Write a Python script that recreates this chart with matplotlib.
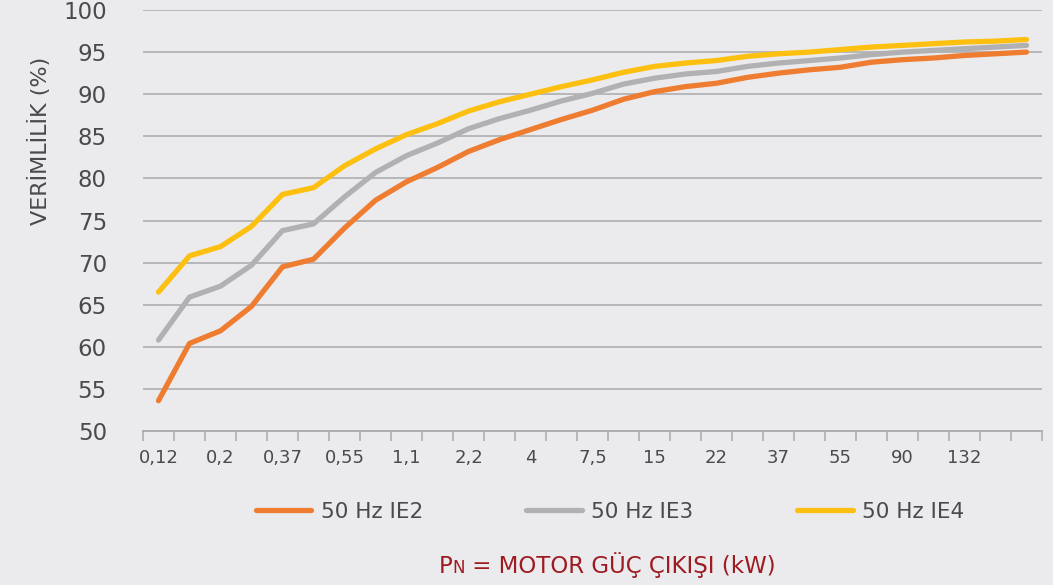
import numpy as np
import matplotlib.pyplot as plt
from matplotlib.offsetbox import TextArea, HPacker, AnchoredOffsetbox

######################################
# DATA
######################################

power_kw = ["0,12", "0,18", "0,2", "0,25", "0,37", "0,4", "0,55", "0,75", "1,1", "1,5",
            "2,2", "3", "4", "5,5", "7,5", "11", "15", "18,5", "22", "30",
            "37", "45", "55", "75", "90", "110", "132", "160", "200"]

ie2 = [53.6, 60.4, 61.9, 64.8, 69.5, 70.4, 74.1, 77.4, 79.6, 81.3,
       83.2, 84.6, 85.8, 87.0, 88.1, 89.4, 90.3, 90.9, 91.3, 92.0,
       92.5, 92.9, 93.2, 93.8, 94.1, 94.3, 94.6, 94.8, 95.0]
ie3 = [60.8, 65.9, 67.2, 69.7, 73.8, 74.6, 77.8, 80.7, 82.7, 84.2,
       85.9, 87.1, 88.1, 89.2, 90.1, 91.2, 91.9, 92.4, 92.7, 93.3,
       93.7, 94.0, 94.3, 94.7, 95.0, 95.2, 95.4, 95.6, 95.8]
ie4 = [66.5, 70.8, 71.9, 74.3, 78.1, 78.9, 81.5, 83.5, 85.2, 86.5,
       88.0, 89.1, 90.0, 90.9, 91.7, 92.6, 93.3, 93.7, 94.0, 94.5,
       94.8, 95.0, 95.3, 95.6, 95.8, 96.0, 96.2, 96.3, 96.5]

series_names = ["50 Hz IE2", "50 Hz IE3", "50 Hz IE4"]
y_ticks = [50, 55, 60, 65, 70, 75, 80, 85, 90, 95, 100]

######################################
# PLOT
######################################

plt.rcParams['font.family'] = ['DejaVu Sans']
bg = "#ebebed"
text_col = "#4a4a4c"
grid_col = "#a9a9ab"

fig = plt.figure(figsize=(10.53, 5.85), dpi=100, facecolor=bg)
ax = fig.add_axes([143/1053, 1-431/585, (1042-143)/1053, 421/585])
ax.set_facecolor(bg)

x = np.arange(len(power_kw))
colors = ["#ee7d31", "#b1b1b4", "#fdc010"]
for vals, name, c in zip([ie2, ie3, ie4], series_names, colors):
    ax.plot(x, vals, color=c, lw=3.8, solid_capstyle="round", solid_joinstyle="round",
            label=name, zorder=3)

ax.set_xlim(-0.5, len(power_kw) - 0.5)
ax.set_ylim(50, 100)
ax.set_yticks(y_ticks)
for yv in y_ticks[1:]:
    ax.axhline(yv, color=grid_col, lw=1.1, zorder=1)

# category boundaries as ticks, labels on every other category
ax.set_xticks(np.arange(-0.5, len(power_kw)), minor=False)
ax.set_xticklabels([])
ax.set_xticks(x[::2][:-1], minor=True)
ax.set_xticklabels(power_kw[::2][:-1], minor=True)
ax.tick_params(axis="x", which="major", length=7, width=1.1, color=grid_col)
ax.tick_params(axis="x", which="minor", length=0, pad=13, labelsize=13, labelcolor=text_col)
ax.tick_params(axis="y", length=0, pad=26, labelsize=16.5, labelcolor=text_col)

for s in ["top", "right", "left"]:
    ax.spines[s].set_visible(False)
ax.spines["bottom"].set_color(grid_col)
ax.spines["bottom"].set_linewidth(1.3)

ax.set_ylabel("VERİMLİLİK (%)", fontsize=16, color=text_col, labelpad=14)
ax.yaxis.set_label_coords(-92/899, 0.69)

fig.legend(loc="center", bbox_to_anchor=(0.579, 1-512/585), ncol=3, frameon=False,
           fontsize=15.5, labelcolor=text_col, handlelength=2.6, handletextpad=0.42,
           columnspacing=4.8)

# x axis title with small N
red = "#9e1b22"
parts = [TextArea("P", textprops=dict(color=red, fontsize=16.5)),
         TextArea("N", textprops=dict(color=red, fontsize=12)),
         TextArea(" = MOTOR GÜÇ ÇIKIŞI (kW)", textprops=dict(color=red, fontsize=16.5))]
box = HPacker(children=parts, align="baseline", pad=0, sep=0)
anch = AnchoredOffsetbox(loc="center", child=box, frameon=False,
                         bbox_to_anchor=(607/1053, 1-565/585),
                         bbox_transform=fig.transFigure, borderpad=0, pad=0)
fig.add_artist(anch)

fig.savefig("out.png", dpi=100, facecolor=bg)
